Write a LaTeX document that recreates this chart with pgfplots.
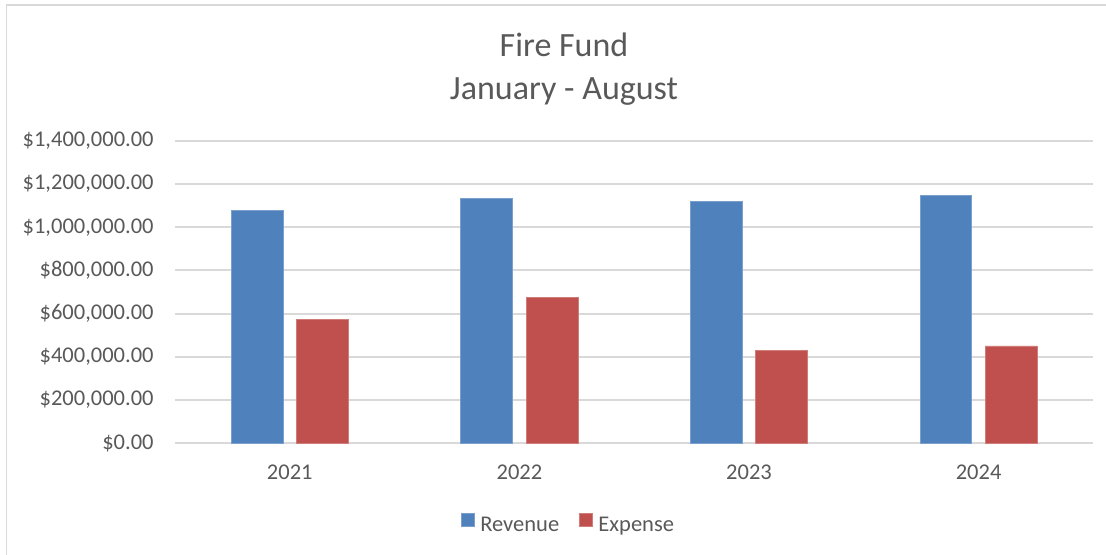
\documentclass[border=0pt]{standalone}
\usepackage{pgfplots}
\pgfplotsset{compat=1.18}
\usepackage{fontspec}
\setmainfont{Carlito}
\definecolor{rev}{HTML}{4F81BD}
\definecolor{expc}{HTML}{C0504D}
\definecolor{gridc}{HTML}{D9D9D9}
\definecolor{txt}{HTML}{595959}
\begin{document}
\begin{tikzpicture}
\path[use as bounding box] (-87.5pt,-55.85pt) rectangle (465.5pt,221.65pt);
\draw[gridc, line width=0.9pt] (-84.25pt,-57pt) -- (-84.25pt,219.15pt) -- (467pt,219.15pt);
\begin{axis}[
  at={(0pt,0pt)}, anchor=south west,
  scale only axis, width=459.2pt, height=151.3pt,
  xmin=-0.5, xmax=3.5, ymin=0, ymax=1400000,
  xtick={0,1,2,3}, xticklabels={2021,2022,2023,2024},
  ytick={0,200000,400000,600000,800000,1000000,1200000,1400000},
  yticklabels={{\$0.00},{\$200,000.00},{\$400,000.00},{\$600,000.00},{\$800,000.00},{\$1,000,000.00},{\$1,200,000.00},{\$1,400,000.00}},
  scaled y ticks=false,
  ymajorgrids, grid style={gridc, line width=0.95pt},
  axis line style={draw=none}, major tick length=0pt,
  ticklabel style={font=\fontsize{11.25}{13}\selectfont, text=txt, inner sep=0pt},
  yticklabel shift=10.5pt, xticklabel shift=10.85pt,
  ybar, bar width=25.85pt,
  legend columns=2,
  legend image code/.code={\fill[#1] (0pt,-0.2pt) rectangle (6.4pt,6.2pt);},
  legend style={at={(rel axis cs:0.4274,-0.265)}, anchor=center, draw=none, fill=none,
    inner sep=0pt, font=\fontsize{11.25}{13}\selectfont, text=txt,
    nodes={inner sep=0pt},
    /tikz/every odd column/.append style={column sep=2.85pt},
    /tikz/every even column/.append style={column sep=10pt}},
]
\addplot[fill=rev, draw=rev!75!white, line width=0.4pt, bar shift=-16.35pt] coordinates {(0,1077000) (1,1132400) (2,1117100) (3,1148100)};
\addplot[fill=expc, draw=expc!75!white, line width=0.4pt, bar shift=16.35pt] coordinates {(0,572200) (1,672700) (2,430600) (3,450500)};
\legend{Revenue, Expense}
\end{axis}
\node[anchor=base, text=txt, font=\fontsize{17}{20}\selectfont, inner sep=0pt] at (194.5pt,193.5pt) {Fire Fund};
\node[anchor=base, text=txt, font=\fontsize{17}{20}\selectfont, inner sep=0pt] at (194.5pt,172pt) {January - August};
\end{tikzpicture}
\end{document}
